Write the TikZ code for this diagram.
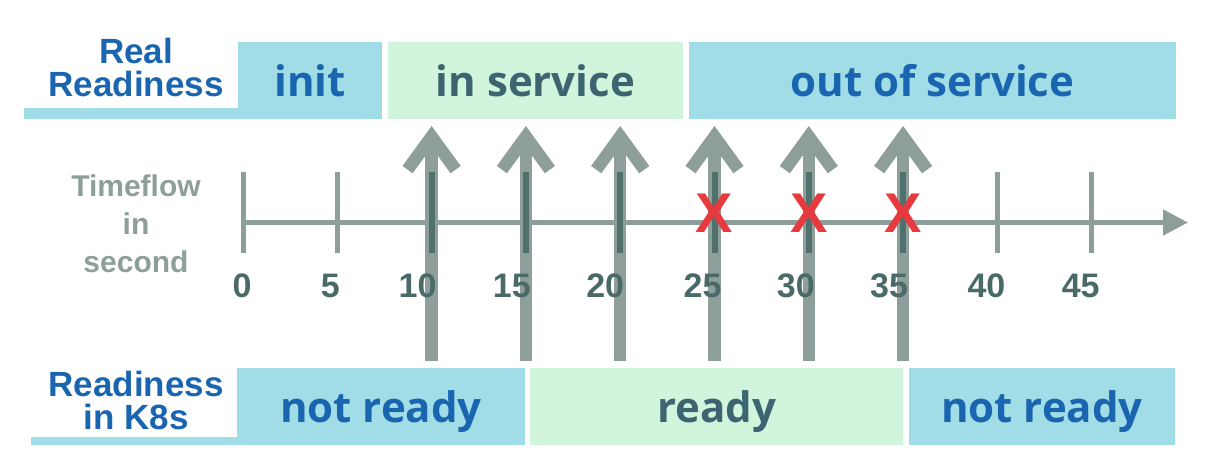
\documentclass[tikz,border=0pt]{standalone}
\usepackage{fontspec}
\setmainfont{Liberation Sans}
\newfontfamily\boxfont{Open Sans}
\usetikzlibrary{arrows.meta}

\definecolor{boxblue}{HTML}{A0DDE6}
\definecolor{boxgreen}{HTML}{D0F5DC}
\definecolor{labelblue}{HTML}{1A65B0}
\definecolor{slate}{HTML}{3D6470}
\definecolor{numgray}{HTML}{4A6A68}
\definecolor{flowgray}{HTML}{8E9F9B}
\definecolor{tickdark}{HTML}{50706C}
\definecolor{crossred}{HTML}{E63A3F}

\begin{document}
\begin{tikzpicture}[
  x=1pt, y=-1pt,
  phase/.style={rectangle, inner sep=0pt, minimum height=77pt, text height=32pt, text depth=0pt, font=\boxfont\bfseries\fontsize{42}{42}\selectfont},
  offbox/.style={phase, fill=boxblue, text=labelblue},
  onbox/.style={phase, fill=boxgreen, text=slate},
  rowlabel/.style={align=center, text=labelblue, font=\bfseries\fontsize{35}{33}\selectfont},
  flowlabel/.style={align=center, text=flowgray, font=\bfseries\fontsize{30}{38}\selectfont},
  num/.style={anchor=base, text=numgray, font=\bfseries\fontsize{34}{34}\selectfont},
  cross/.style={inner sep=0pt, text=crossred, font=\bfseries\fontsize{56}{56}\selectfont},
  tick/.style={flowgray, line width=5pt},
  darktick/.style={tickdark, line width=6pt},
  axis/.style={flowgray, line width=5pt, -{Triangle[length=25pt,width=25pt]}},
  probe/.style={flowgray, line width=12.5pt, -{Straight Barb[length=33pt,width=48pt]}}
]
\useasboundingbox (0,0) rectangle (1209,468);

% Real readiness row
\fill[boxblue] (24,108) rectangle (238,119);
\node[rowlabel] (real) at (136,67) {Real\\Readiness};
\node[offbox, minimum width=144pt] (init) at (310,80.5) {init};
\node[onbox, minimum width=295pt] (inservice) at (535.5,80.5) {in service};
\node[offbox, minimum width=487pt] (outservice) at (932.5,80.5) {out of service};

% Readiness in K8s row
\fill[boxblue] (31,437) rectangle (237,445);
\node[rowlabel] (k8s) at (136,400) {Readiness\\in K8s};
\node[offbox, minimum width=288pt] (notready) at (381,406.5) {not ready};
\node[onbox, minimum width=373pt] (ready) at (716.5,406.5) {ready};
\node[offbox, minimum width=266pt] (notreadyend) at (1042,406.5) {not ready};

% Timeline
\node[flowlabel] (timeflow) at (136,224) {Timeflow\\in\\second};
\coordinate (origin) at (241,222.5);
\coordinate (axisend) at (1188,222.5);
\foreach \t in {0,5,...,45} {
  \pgfmathsetmacro\x{243+18.86*\t}
  \draw[tick] (\x,172) -- (\x,253);
}
\draw[axis] (origin) -- (axisend);

% Probes
\foreach \t in {10,15,...,35} {
  \pgfmathsetmacro\x{243+18.86*\t}
  \coordinate (base\t) at (\x,361);
  \coordinate (tip\t) at (\x,126);
  \draw[probe] (base\t) -- (tip\t);
  \draw[darktick] (\x,172) -- (\x,253);
}

% Seconds
\foreach \t/\dx in {0/-1,5/-7,10/-14,15/-14,20/-15,25/-12,30/-13,35/-14,40/-11,45/-11} {
  \pgfmathsetmacro\x{243+18.86*\t}
  \node[num] (n\t) at (\x+\dx,297) {\t};
}

% Failed probes
\foreach \t in {25,30,35} {
  \node[cross] (miss\t) at ([yshift=9.5pt]tip\t |- origin) {X};
}
\end{tikzpicture}
\end{document}
